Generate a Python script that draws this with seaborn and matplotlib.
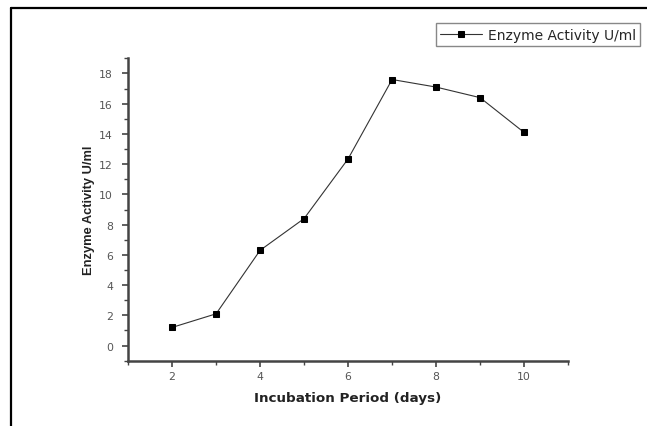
import numpy as np
import pandas as pd
import matplotlib
matplotlib.use("Agg")
import matplotlib.pyplot as plt
from matplotlib.lines import Line2D
from matplotlib.ticker import MultipleLocator
import seaborn as sns

# incubation period (days) vs enzyme activity
days = [2, 3, 4, 5, 6, 7, 8, 9, 10]
activity = [1.2, 2.1, 6.3, 8.4, 12.35, 17.6, 17.1, 16.4, 14.1]
series_name = "Enzyme Activity U/ml"

sns.set_style("ticks")
plt.rcParams['font.family'] = ['DejaVu Sans']

df = pd.DataFrame({"days": days, "activity": activity, "series": series_name})

fig = plt.figure(figsize=(6.47, 4.27), dpi=100)
ax = fig.add_axes([0.198, 0.153, 0.68, 0.708])

sns.lineplot(data=df, x="days", y="activity", hue="series", palette=["#333333"],
             marker="s", markersize=5, markeredgecolor="black", markerfacecolor="black",
             linewidth=0.8, ax=ax)

ax.set_xlim(1, 11)
ax.set_ylim(-1, 19)
ax.xaxis.set_major_locator(MultipleLocator(2))
ax.xaxis.set_minor_locator(MultipleLocator(1))
ax.yaxis.set_major_locator(MultipleLocator(2))
ax.yaxis.set_minor_locator(MultipleLocator(1))
ax.tick_params(which="major", length=4, width=1.2, color="#444444", labelsize=7.8,
               labelcolor="#555555", direction="out")
ax.tick_params(axis="y", which="major", pad=7)
ax.tick_params(which="minor", length=3, width=1.0, color="#444444", direction="out")

for s in ["top", "right"]:
    ax.spines[s].set_visible(False)
for s in ["left", "bottom"]:
    ax.spines[s].set_linewidth(1.8)
    ax.spines[s].set_color("#444444")

ax.set_xlabel("Incubation Period (days)", fontsize=9.7, fontweight="bold", color="#222222",
              labelpad=7)
ax.set_ylabel("Enzyme Activity U/ml", fontsize=9.3, fontweight="bold", color="#222222",
              labelpad=3, family="Liberation Sans")

handles, labels = ax.get_legend_handles_labels()
ax.legend(handles, labels, loc="upper right", bbox_to_anchor=(0.989, 0.943),
          bbox_transform=fig.transFigure, fontsize=10, frameon=True, fancybox=False,
          edgecolor="#888888", framealpha=1, borderpad=0.3, borderaxespad=0,
          handlelength=3.0, handletextpad=0.4)

# outer frame (top and left only visible)
fig.add_artist(Line2D([0.017, 0.017], [0.0, 0.979], transform=fig.transFigure,
                      color="black", linewidth=1.6))
fig.add_artist(Line2D([0.017, 1.0], [0.979, 0.979], transform=fig.transFigure,
                      color="black", linewidth=1.6))

fig.savefig("out.png", dpi=100)
